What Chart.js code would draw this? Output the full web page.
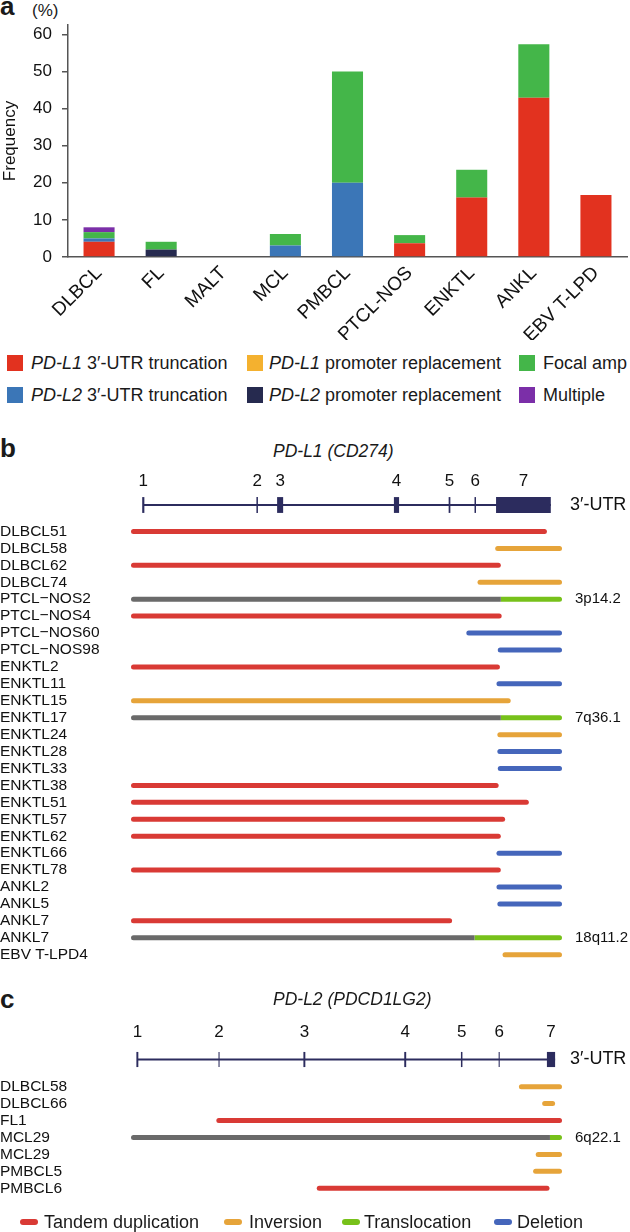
<!DOCTYPE html>
<html>
<head>
<meta charset="utf-8">
<script src="https://cdn.jsdelivr.net/npm/chart.js@4.4.1/dist/chart.umd.min.js"></script>
<style>
  body { margin: 0; width: 630px; height: 1232px; position: relative; background: #fff; overflow: hidden;
         font-family: "Liberation Sans", Arial, sans-serif; color: #1a1a1a; }
  canvas { position: absolute; left: 0; }
  .t { position: absolute; white-space: nowrap; line-height: 1; }
  .lg { position: absolute; white-space: nowrap; line-height: 1; font-size: 18px; }
  .sq { position: absolute; width: 16px; height: 16px; }
  .pill { position: absolute; width: 18px; height: 6px; border-radius: 3px; }
</style>
</head>
<body>
<div class="t" style="left:0;top:-7px;font-size:26px;font-weight:bold">a</div>
<div class="t" style="left:32px;top:2px;font-size:17px">(%)</div>
<canvas id="chartA" width="630" height="340" style="top:0"></canvas>

<div class="sq" style="left:7px;top:355px;background:#e2321f"></div>
<div class="lg" style="left:31px;top:354px"><i>PD-L1</i> 3&#8242;-UTR truncation</div>
<div class="sq" style="left:247px;top:355px;background:#f4b12f"></div>
<div class="lg" style="left:269px;top:354px"><i>PD-L1</i> promoter replacement</div>
<div class="sq" style="left:519px;top:355px;background:#44b649"></div>
<div class="lg" style="left:543px;top:354px">Focal amp</div>
<div class="sq" style="left:7px;top:387px;background:#3b76b7"></div>
<div class="lg" style="left:31px;top:386px"><i>PD-L2</i> 3&#8242;-UTR truncation</div>
<div class="sq" style="left:247px;top:387px;background:#262a4f"></div>
<div class="lg" style="left:269px;top:386px"><i>PD-L2</i> promoter replacement</div>
<div class="sq" style="left:519px;top:387px;background:#7b2fa8"></div>
<div class="lg" style="left:543px;top:386px">Multiple</div>

<div class="t" style="left:0;top:435px;font-size:26px;font-weight:bold">b</div>
<div class="t" style="left:273px;top:443px;font-size:17.5px;font-style:italic">PD-L1 (CD274)</div>
<canvas id="geneB" width="630" height="68" style="top:460px"></canvas>
<canvas id="rowsB" width="630" height="470" style="top:509px"></canvas>

<div class="t" style="left:0;top:986px;font-size:26px;font-weight:bold">c</div>
<div class="t" style="left:273px;top:991px;font-size:17.5px;font-style:italic">PD-L2 (PDCD1LG2)</div>
<canvas id="geneC" width="630" height="82" style="top:1000px"></canvas>
<canvas id="rowsC" width="630" height="150" style="top:1064px"></canvas>

<div class="pill" style="left:20px;top:1219px;background:#d93a35"></div>
<div class="lg" style="left:44px;top:1213px">Tandem duplication</div>
<div class="pill" style="left:224px;top:1219px;background:#e6a43a"></div>
<div class="lg" style="left:249px;top:1213px">Inversion</div>
<div class="pill" style="left:342px;top:1219px;background:#77c11a"></div>
<div class="lg" style="left:364px;top:1213px">Translocation</div>
<div class="pill" style="left:494px;top:1219px;background:#4566bb"></div>
<div class="lg" style="left:517px;top:1213px">Deletion</div>

<script>
// ---- panel a: frequency of PD-L1/PD-L2 alterations (%)
const entities = ['DLBCL', 'FL', 'MALT', 'MCL', 'PMBCL', 'PTCL-NOS', 'ENKTL', 'ANKL', 'EBV T-LPD'];
const pdl1Utr  = [4.1, 0, 0, 0, 0, 3.7, 16.0, 42.9, 16.7];
const pdl2Utr  = [0.9, 0, 0, 3.1, 20.0, 0, 0, 0, 0];
const pdl2Prom = [0, 2.0, 0, 0, 0, 0, 0, 0, 0];
const pdl1Prom = [0, 0, 0, 0, 0, 0, 0, 0, 0];
const focalAmp = [1.7, 2.1, 0, 3.1, 30.0, 2.2, 7.5, 14.4, 0];
const multiple = [1.3, 0, 0, 0, 0, 0, 0, 0, 0];
const freqTicks = [0, 10, 20, 30, 40, 50, 60];

// ---- panel b: PD-L1 structural variants (positions along the locus, 0-100)
const pdl1Exons = ['1', '2', '3', '4', '5', '6', '7'];
const pdl1ExonStart = [2.6, 29.1, 33.9, 61.0, 73.7, 79.7, 84.7];
const pdl1ExonEnd   = [3.1, 29.45, 35.3, 62.2, 74.1, 80.05, 97.4];
const pdl1Samples = ['DLBCL51', 'DLBCL58', 'DLBCL62', 'DLBCL74', 'PTCL\u2212NOS2', 'PTCL\u2212NOS4', 'PTCL\u2212NOS60',
  'PTCL\u2212NOS98', 'ENKTL2', 'ENKTL11', 'ENKTL15', 'ENKTL17', 'ENKTL24', 'ENKTL28', 'ENKTL33', 'ENKTL38',
  'ENKTL51', 'ENKTL57', 'ENKTL62', 'ENKTL66', 'ENKTL78', 'ANKL2', 'ANKL5', 'ANKL7', 'ANKL7', 'EBV T-LPD4'];
const pdl1Types = ['Tandem', 'Inversion', 'Tandem', 'Inversion', 'Translocation', 'Tandem', 'Deletion',
  'Deletion', 'Tandem', 'Deletion', 'Inversion', 'Translocation', 'Inversion', 'Deletion', 'Deletion', 'Tandem',
  'Tandem', 'Tandem', 'Tandem', 'Deletion', 'Tandem', 'Deletion', 'Deletion', 'Tandem', 'Translocation', 'Inversion'];
const pdl1Start = [0, 84.5, 0, 80.4, 0, 0, 77.8, 85.1, 0, 84.8, 0, 0, 85.0, 85.0, 85.1, 0,
  0, 0, 0, 84.8, 0, 84.8, 85.0, 0, 0, 86.2];
const pdl1End = [96.5, 100, 85.8, 100, 100, 86.0, 100, 100, 85.6, 100, 88.1, 100, 100, 100, 100, 85.3,
  92.3, 86.8, 85.8, 100, 85.8, 100, 100, 74.5, 100, 100];
const pdl1Break = [null, null, null, null, 85.8, null, null, null, null, null, null, 85.8, null, null, null, null,
  null, null, null, null, null, null, null, null, 79.7, null];
const pdl1Band = ['', '', '', '', '3p14.2', '', '', '', '', '', '', '7q36.1', '', '', '', '',
  '', '', '', '', '', '', '', '', '18q11.2', ''];

// ---- panel c: PD-L2 structural variants
const pdl2Exons = ['1', '2', '3', '4', '5', '6', '7'];
const pdl2ExonStart = [1.25, 20.3, 40.0, 63.4, 76.55, 85.3, 96.5];
const pdl2ExonEnd   = [1.7, 20.55, 40.45, 63.85, 76.9, 85.55, 98.4];
const pdl2Samples = ['DLBCL58', 'DLBCL66', 'FL1', 'MCL29', 'MCL29', 'PMBCL5', 'PMBCL6'];
const pdl2Types = ['Inversion', 'Inversion', 'Tandem', 'Translocation', 'Inversion', 'Inversion', 'Tandem'];
const pdl2Start = [90.0, 95.4, 19.8, 0, 93.9, 93.3, 43.1];
const pdl2End   = [100, 98.4, 100, 100, 100, 100, 97.1];
const pdl2Break = [null, null, null, 97.2, null, null, null];
const pdl2Band  = ['', '', '', '6q22.1', '', '', ''];

const NAVY = '#2c2c5e';
const SV_COLORS = { Tandem: '#d93a35', Inversion: '#e6a43a', Deletion: '#4566bb' };

Chart.defaults.font.family = '"Liberation Sans", Arial, sans-serif';
Chart.defaults.color = '#111';
Chart.defaults.animation = false;
Chart.defaults.plugins.legend.display = false;
Chart.defaults.plugins.tooltip.enabled = false;

// Frequency bar chart
new Chart(document.getElementById('chartA'), {
    type: 'bar',
    data: {
        labels: entities,
        datasets: [
            { label: 'PD-L1 3\u2032-UTR truncation', data: pdl1Utr, backgroundColor: '#e2321f' },
            { label: 'PD-L2 3\u2032-UTR truncation', data: pdl2Utr, backgroundColor: '#3b76b7' },
            { label: 'PD-L2 promoter replacement', data: pdl2Prom, backgroundColor: '#262a4f' },
            { label: 'PD-L1 promoter replacement', data: pdl1Prom, backgroundColor: '#f4b12f' },
            { label: 'Focal amp', data: focalAmp, backgroundColor: '#44b649' },
            { label: 'Multiple', data: multiple, backgroundColor: '#7b2fa8' }
        ]
    },
    options: {
        responsive: false,
        devicePixelRatio: 1,
        layout: { padding: { top: 25, right: 3 } },
        datasets: { bar: { barPercentage: 0.5, categoryPercentage: 1 } },
        scales: {
            x: {
                stacked: true,
                grid: { display: false, drawTicks: false },
                border: { color: '#555', width: 1.5 },
                ticks: { autoSkip: false, minRotation: 45, maxRotation: 45, padding: 5, font: { size: 19 } },
                afterFit: function (s) { s.height = 83; }
            },
            y: {
                stacked: true,
                min: 0,
                max: 62.5,
                grid: { drawOnChartArea: false, tickLength: 6, color: '#555', lineWidth: 1.5 },
                border: { color: '#555', width: 1.5 },
                ticks: { padding: 10, font: { size: 17 } },
                afterBuildTicks: function (s) { s.ticks = freqTicks.map(v => ({ value: v })); },
                title: { display: true, text: 'Frequency', font: { size: 17 }, padding: 0 },
                afterFit: function (s) { s.width = 68; }
            }
        }
    }
});

// Exon/intron structure drawn as floating bars, exon numbers as top axis ticks
function geneChart(id, exons, starts, ends, topHeight, labelPad) {
    const centers = starts.map((s, i) => (s + ends[i]) / 2);
    return new Chart(document.getElementById(id), {
        type: 'bar',
        data: {
            datasets: [
                { data: [{ x: [centers[0], ends[ends.length - 1]], y: 0 }], maxBarThickness: 2,
                  backgroundColor: NAVY },
                { data: starts.map((s, i) => ({ x: [s, ends[i]], y: 0 })), maxBarThickness: 21,
                  backgroundColor: NAVY }
            ]
        },
        options: {
            indexAxis: 'y',
            responsive: false,
            devicePixelRatio: 1,
            layout: { padding: { left: 131, bottom: 12 } },
            datasets: { bar: { grouped: false, borderSkipped: false } },
            scales: {
                x: {
                    type: 'linear', position: 'top', min: 0, max: 100,
                    grid: { display: false, drawTicks: false }, border: { display: false },
                    afterBuildTicks: function (s) { s.ticks = centers.map(v => ({ value: v })); },
                    ticks: { padding: labelPad, font: { size: 17 }, callback: (v, i) => exons[i] },
                    afterFit: function (s) { s.height = topHeight; }
                },
                y: {
                    type: 'linear', min: -1, max: 1, offset: false, display: false,
                    afterBuildTicks: function (s) { s.ticks = [{ value: 0 }]; }
                },
                y2: {
                    type: 'linear', position: 'right', min: -1, max: 1,
                    grid: { display: false, drawTicks: true, tickLength: 8 }, border: { display: false },
                    afterBuildTicks: function (s) { s.ticks = [{ value: 0 }]; },
                    ticks: { padding: 0, font: { size: 18 }, callback: () => '3\u2032-UTR' },
                    afterFit: function (s) { s.width = 68; }
                }
            }
        }
    });
}

// One row per rearrangement; translocations are grey (partner) + green (PD-L1/L2 side)
function rowsChart(id, samples, types, starts, ends, breaks, bands, padTop, padBottom) {
    const seg = t => samples.map((_, i) => types[i] === t ? [starts[i], ends[i]] : null);
    const isT = i => types[i] === 'Translocation';
    return new Chart(document.getElementById(id), {
        type: 'bar',
        data: {
            labels: samples,
            datasets: [
                { label: 'Tandem duplication', data: seg('Tandem'), backgroundColor: SV_COLORS.Tandem },
                { label: 'Inversion', data: seg('Inversion'), backgroundColor: SV_COLORS.Inversion },
                { label: 'Deletion', data: seg('Deletion'), backgroundColor: SV_COLORS.Deletion },
                { label: 'Partner', data: samples.map((_, i) => isT(i) ? [starts[i], breaks[i]] : null),
                  backgroundColor: '#6a6a6a', borderSkipped: 'right' },
                { label: 'Translocation', data: samples.map((_, i) => isT(i) ? [breaks[i], ends[i]] : null),
                  backgroundColor: '#77c11a', borderSkipped: 'left' }
            ]
        },
        options: {
            indexAxis: 'y',
            responsive: false,
            devicePixelRatio: 1,
            layout: { padding: { top: padTop, bottom: padBottom } },
            datasets: { bar: { grouped: false, maxBarThickness: 5, borderRadius: 3, borderSkipped: false } },
            scales: {
                x: { type: 'linear', min: 0, max: 100, display: false },
                y: {
                    grid: { display: false }, border: { display: false },
                    ticks: { autoSkip: false, crossAlign: 'far', padding: 0, font: { size: 15.5 } },
                    afterFit: function (s) { s.width = 131; }
                },
                y2: {
                    type: 'category', labels: bands, position: 'right', offset: true,
                    grid: { display: false, drawTicks: true, tickLength: 13 }, border: { display: false },
                    ticks: { autoSkip: false, padding: 0, font: { size: 15 } },
                    afterFit: function (s) { s.width = 68; }
                }
            }
        }
    });
}

geneChart('geneB', pdl1Exons, pdl1ExonStart, pdl1ExonEnd, 34, 2);
rowsChart('rowsB', pdl1Samples, pdl1Types, pdl1Start, pdl1End, pdl1Break, pdl1Band, 14, 15.8);
geneChart('geneC', pdl2Exons, pdl2ExonStart, pdl2ExonEnd, 49, 6);
rowsChart('rowsC', pdl2Samples, pdl2Types, pdl2Start, pdl2End, pdl2Break, pdl2Band, 14.2, 17.3);
</script>
</body>
</html>
